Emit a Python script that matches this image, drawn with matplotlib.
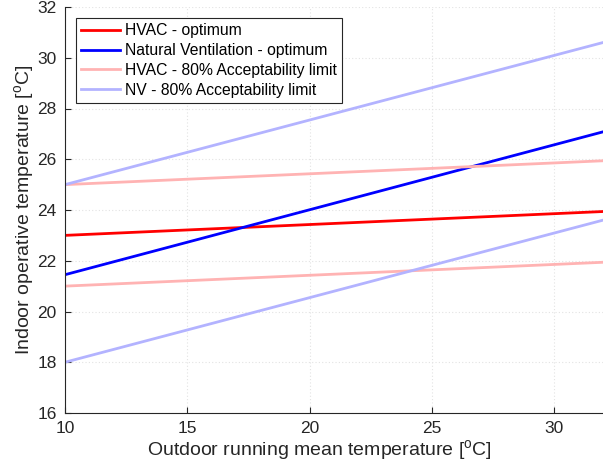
import numpy as np
import matplotlib
matplotlib.use("Agg")
import matplotlib.pyplot as plt

plt.rcParams['font.family'] = ['Liberation Sans', 'DejaVu Sans']

# outdoor running mean temperature (line end points)
t_out = [10, 32]

# indoor operative temperatures
hvac_opt = [23.0, 23.94]
nv_opt = [21.45, 27.08]
hvac_up = [25.0, 25.94]
hvac_low = [21.0, 21.94]
nv_up = [25.0, 30.6]
nv_low = [18.0, 23.6]

labels = ["HVAC - optimum", "Natural Ventilation - optimum",
          "HVAC - 80% Acceptability limit", "NV - 80% Acceptability limit"]

fig = plt.figure(figsize=(6.03, 4.67), dpi=100)
ax = fig.add_axes([65 / 603, 1 - 413 / 467, 1 - 65 / 603, 406 / 467])

lw = 2.0
ax.plot(t_out, hvac_opt, color=(1, 0, 0), lw=lw, label=labels[0])
ax.plot(t_out, nv_opt, color=(0, 0, 1), lw=lw, label=labels[1])
ax.plot(t_out, hvac_up, color=(1, 0.7, 0.7), lw=lw, label=labels[2])
ax.plot(t_out, nv_up, color=(0.7, 0.7, 1), lw=lw, label=labels[3])
ax.plot(t_out, hvac_low, color=(1, 0.7, 0.7), lw=lw)
ax.plot(t_out, nv_low, color=(0.7, 0.7, 1), lw=lw)

ax.set_xlim(10, 32)
ax.set_ylim(16, 32)
ax.set_xticks([10, 15, 20, 25, 30])
ax.set_yticks(np.arange(16, 33, 2))

ax.grid(True, linestyle=(0, (1, 2)), color='#e3e3e3', linewidth=0.8)
ax.set_axisbelow(True)

for s in ['top', 'right']:
    ax.spines[s].set_visible(False)
for s in ['left', 'bottom']:
    ax.spines[s].set_color('#262626')
    ax.spines[s].set_linewidth(0.8)

ax.tick_params(direction='in', length=4, width=0.8, colors='#262626',
               labelsize=12.5, pad=6)

ax.set_xlabel("Outdoor running mean temperature [$\\mathregular{^oC}$]",
              fontsize=14, color='#262626', labelpad=2)
ax.set_ylabel("Indoor operative temperature [$\\mathregular{^oC}$]",
              fontsize=14, color='#262626', labelpad=1)
# the label in the original sits a bit left of the axes centre
ax.xaxis.set_label_coords((319 - 65) / 538, -0.062)

leg = ax.legend(loc='upper left', fontsize=11.3, frameon=True, fancybox=False,
                edgecolor='#262626', framealpha=1, borderpad=0.35,
                handlelength=2.45, handletextpad=0.3, labelspacing=0.3,
                borderaxespad=0.7)
leg.get_frame().set_linewidth(0.8)

fig.savefig("out.png", dpi=100)
